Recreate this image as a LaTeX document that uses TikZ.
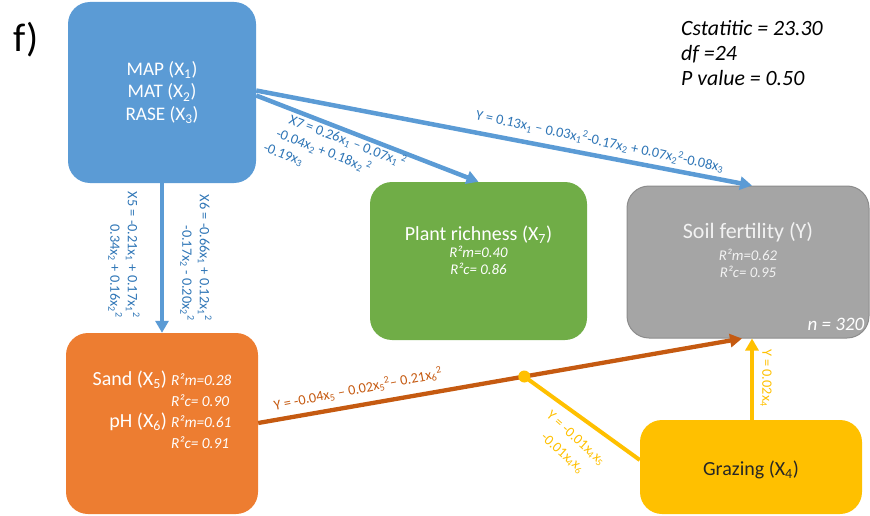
\documentclass[tikz,border=0pt]{standalone}
\usepackage{fontspec}
\setmainfont{Carlito}
\usetikzlibrary{arrows.meta,calc,positioning}
\definecolor{mapblue}{HTML}{5B9BD5}
\definecolor{eqblue}{HTML}{2E75B6}
\definecolor{plantgreen}{HTML}{70AD47}
\definecolor{soilgrey}{HTML}{A5A5A5}
\definecolor{soilline}{HTML}{8C8C8C}
\definecolor{sandorange}{HTML}{ED7D31}
\definecolor{rustline}{HTML}{C55A11}
\definecolor{grazeyellow}{HTML}{FFC000}
\newcommand{\xs}[1]{x\textsubscript{#1}}
\newcommand{\xq}[1]{x\textsubscript{#1}\textsuperscript{2}}
\newcommand{\fsz}[1]{\fontsize{#1}{#1}\selectfont}

\begin{document}
\begin{tikzpicture}[x=1pt,y=-1pt,>={Triangle[length=12pt,width=13pt]},
 box/.style={rounded corners=22pt,inner sep=0pt},
 boxtext/.style={text=white,align=center,inner sep=0pt},
 eqn/.style={align=center,inner sep=0pt,font=\fontsize{14.3}{17.5}\selectfont},
 bluelink/.style={mapblue,line width=4.5pt},
 rustlink/.style={rustline,line width=4.3pt},
 yellowlink/.style={grazeyellow,line width=4pt}]
 \useasboundingbox(0,0)rectangle(870,516);
 \node[font=\fsz{40}](tag)at(26,40){f)};
 \node[align=left,inner sep=0pt,font=\fontsize{21.8}{25}\selectfont\itshape,anchor=west](stats)at(681,53)
  {Cstatitic = 23.30\\df =24\\P value = 0.50};
 % boxes
 \node[box,fill=mapblue,minimum width=188pt,minimum height=181pt](map)at(162,92.5){};
 \node[boxtext,font=\fontsize{19.2}{22.5}\selectfont]at(map.center)
  {MAP (X\textsubscript{1})\\MAT (X\textsubscript{2})\\RASE (X\textsubscript{3})};
 \node[box,fill=plantgreen,minimum width=217pt,minimum height=158pt](plant)at(478.5,261){};
 \node[boxtext,font=\fontsize{20}{17}\selectfont]at($(plant.center)+(0,-11)$)
  {Plant richness (X\textsubscript{7})\\{\fsz{14.8}\itshape R²m=0.40}\\{\fsz{14.8}\itshape R²c= 0.86}};
 \node[box,fill=soilgrey,draw=soilline,line width=1pt,minimum width=242pt,minimum height=152pt](soil)at(748,262){};
 \node[boxtext,text=white!95!black,font=\fontsize{22}{17}\selectfont]at($(soil.center)+(0,-12)$)
  {Soil fertility (Y)\\[5pt]{\fsz{14.8}\itshape R²m=0.62}\\{\fsz{14.8}\itshape R²c= 0.95}};
 \node[boxtext,font=\fsz{19}\itshape,anchor=south east]at($(soil.south east)+(-5,-8)$){n = 320};
 \node[box,fill=sandorange,minimum width=192pt,minimum height=181pt](sand)at(162,423.5){};
 \node[boxtext,font=\fontsize{15.3}{21}\selectfont]at($(sand.center)+(0,-11)$){%
  \begin{tabular}{@{}r@{\hspace{4pt}}l@{}}
   {\fsz{20}Sand (X\textsubscript{5})}&\itshape R²m=0.28\\
   &\itshape R²c= 0.90\\
   {\fsz{20}pH (X\textsubscript{6})}&\itshape R²m=0.61\\
   &\itshape R²c= 0.91
  \end{tabular}};
 \node[box,fill=grazeyellow,minimum width=222pt,minimum height=94pt](grazing)at(751,467){};
 \node[boxtext,text=black!85,font=\fsz{20}]at($(grazing.center)+(0,3)$){Grazing (X\textsubscript{4})};
 % links
 \draw[bluelink,->](map.south)--(sand.north);
 \draw[bluelink,->]($(map.east)+(0,3)$)--(plant.north);
 \draw[bluelink,->]($(map.east)+(0,-2)$)--($(soil.north)+(4,0)$);
 \draw[rustlink,->]($(sand.east)+(0,-0.5)$)--coordinate[pos=0.55](knot)($(soil.south)+(-6,0)$);
 \draw[yellowlink](knot)--($(grazing.west)+(0,-7)$);
 \fill[grazeyellow](knot)circle(6pt);
 \draw[yellowlink,->]($(grazing.north)+(1,0)$)--($(soil.south)+(4,0)$);
 % equations
 \node[eqn,text=eqblue,rotate=-90,align=right,anchor=east]at(124,318)
  {X5 = -0.21\xs1 + 0.17\xq1\\0.34\xs2 + 0.16\xq2};
 \node[eqn,text=eqblue,rotate=-90,align=right,anchor=east]at(196,321)
  {X6 = -0.66\xs1 + 0.12\xq1\\-0.17\xs2 - 0.20\xq2};
 \node[eqn,text=eqblue,rotate=-21,align=left]at(335,155)
  {\hspace*{14pt}X7 = 0.26\xs1 – 0.07x\textsubscript{1}\,\textsuperscript{2}\\
   \hspace*{7pt}-0.04\xs2 + 0.18x\textsubscript{2}\,\textsuperscript{2}\\-0.19\xs3};
 \node[eqn,text=eqblue,rotate=-12]at(600,141)
  {Y = 0.13\xs1 – 0.03\xq1-0.17\xs2 + 0.07\xq2-0.08\xs3};
 \node[eqn,text=rustline,rotate=11]at(358,389)
  {Y = -0.04\xs5 – 0.02\xq5– 0.21\xq6};
 \node[eqn,text=grazeyellow,rotate=-42,font=\fontsize{14.3}{20}\selectfont]at(569,446)
  {Y = -0.01\xs4\xs5\\-0.01\xs4\xs6};
 \node[eqn,text=grazeyellow,rotate=-90]at(766,378){Y = 0.02\xs4};
\end{tikzpicture}
\end{document}
